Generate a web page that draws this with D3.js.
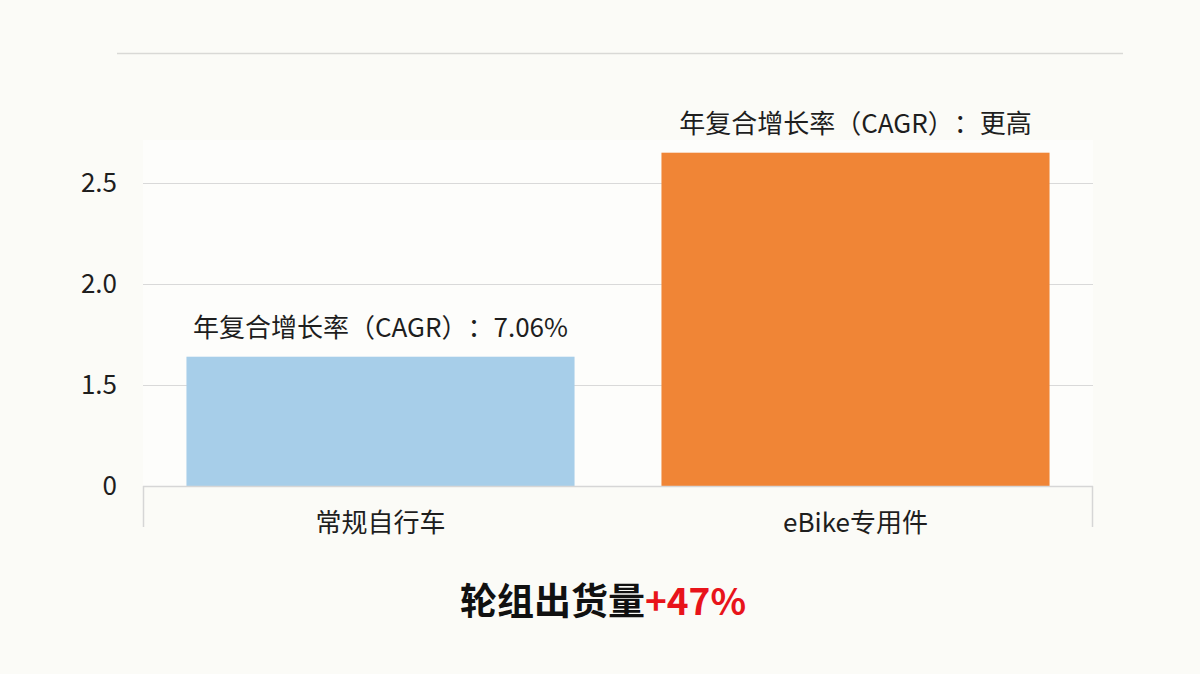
<!DOCTYPE html>
<html><head><meta charset="utf-8">
<script src="https://cdn.jsdelivr.net/npm/d3@7"></script>
<style>
html,body{margin:0;padding:0;background:#fbfbf7;}
svg{display:block;font-family:"Noto Sans CJK SC","Noto Sans",sans-serif;text-spacing-trim:space-all;}
text{text-spacing-trim:space-all;}
</style></head><body>
<svg id="c" width="1200" height="674"></svg>
<script>
const categories = ["常规自行车", "eBike专用件"];
const values = [1.64, 2.65];
const annotations = ["年复合增长率（CAGR）：7.06%", "年复合增长率（CAGR）：更高"];
const tickValues = [1.0, 1.5, 2.0, 2.5];
const tickLabels = ["0", "1.5", "2.0", "2.5"];
const colors = ["#a7cee9", "#f08536"];
const titleMain = "轮组出货量";
const titleAccent = "+47%";

const svg = d3.select("#c");
const m = {left:143, right:1093, top:53, bottom:486};

// top rule
svg.append("line").attr("x1",117).attr("x2",1123).attr("y1",53.5).attr("y2",53.5)
  .attr("stroke","#d9d9d6").attr("stroke-width",1.5);

const x = d3.scaleBand().domain(categories).range([m.left, m.right]).paddingInner(0.183).paddingOuter(0.0915);
const y = d3.scaleLinear().domain([1.0, 2.5]).range([486, 183]);

// plot area
svg.append("rect").attr("x",m.left).attr("y",140).attr("width",m.right-m.left).attr("height",486-140).attr("fill","#ffffff").attr("opacity",0.5);

// gridlines
svg.append("g").selectAll("line").data(tickValues.slice(1)).join("line")
  .attr("x1",m.left).attr("x2",m.right)
  .attr("y1",d=>Math.round(y(d))+0.5).attr("y2",d=>Math.round(y(d))+0.5)
  .attr("stroke","#d9d9d9").attr("stroke-width",1.2);

// y tick labels
svg.append("g").selectAll("text").data(tickValues).join("text")
  .attr("x",117).attr("y",d=>y(d)).attr("dy","0.36em")
  .attr("text-anchor","end").attr("font-size",26).attr("fill","#1e1e1e")
  .text((d,i)=>tickLabels[i]);

// bars
svg.append("g").selectAll("rect").data(values).join("rect")
  .attr("x",(d,i)=>x(categories[i])).attr("width",x.bandwidth())
  .attr("y",d=>y(d)).attr("height",d=>y(1.0)-y(d))
  .attr("fill",(d,i)=>colors[i]);

// x axis
const ax = svg.append("g").attr("fill","none").attr("stroke","#d6d6d6").attr("stroke-width",1.5);
ax.append("line").attr("x1",m.left).attr("x2",m.right).attr("y1",486.5).attr("y2",486.5);
ax.append("line").attr("x1",m.left+0.5).attr("x2",m.left+0.5).attr("y1",486).attr("y2",527);
ax.append("line").attr("x1",m.right-0.5).attr("x2",m.right-0.5).attr("y1",486).attr("y2",527);

// category labels
svg.append("g").selectAll("text").data(categories).join("text")
  .attr("x",d=>x(d)+x.bandwidth()/2).attr("y",532)
  .attr("text-anchor","middle").attr("font-size",26).attr("fill","#1e1e1e")
  .text(d=>d);

// annotations
svg.append("g").selectAll("text").data(values).join("text")
  .attr("x",(d,i)=>x(categories[i])+x.bandwidth()/2).attr("y",d=>y(d)-20)
  .attr("text-anchor","middle").attr("font-size",26).attr("fill","#1e1e1e")
  .text((d,i)=>annotations[i]);

// title
const t = svg.append("text").attr("x",603).attr("y",615).attr("text-anchor","middle")
  .attr("font-size",37).attr("font-weight","bold");
t.append("tspan").attr("fill","#111").text(titleMain);
t.append("tspan").attr("fill","#e8141b").text(titleAccent);
</script>
</body></html>
